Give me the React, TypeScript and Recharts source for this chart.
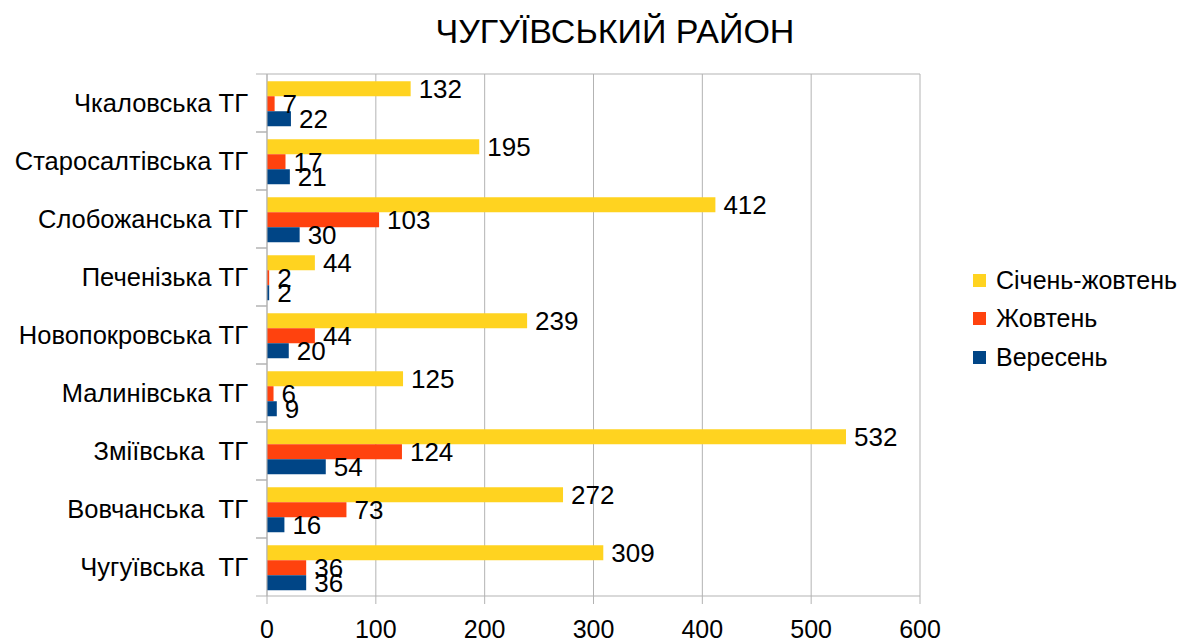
import React from "react";
import {
  Bar,
  BarChart,
  CartesianGrid,
  LabelList,
  Legend,
  XAxis,
  YAxis,
} from "recharts";

const communities = [
  "Чкаловська ТГ",
  "Старосалтівська ТГ",
  "Слобожанська ТГ",
  "Печенізька ТГ",
  "Новопокровська ТГ",
  "Малинівська ТГ",
  "Зміївська  ТГ",
  "Вовчанська  ТГ",
  "Чугуївська  ТГ",
];
const janToOct = [132, 195, 412, 44, 239, 125, 532, 272, 309];
const october = [7, 17, 103, 2, 44, 6, 124, 73, 36];
const september = [22, 21, 30, 2, 20, 9, 54, 16, 36];
const xTicks = [0, 100, 200, 300, 400, 500, 600];

const series = [
  { key: "janOct", name: "Січень-жовтень", color: "#ffd320" },
  { key: "oct", name: "Жовтень", color: "#ff420e" },
  { key: "sep", name: "Вересень", color: "#004586" },
];

const data = communities.map((name, i) => ({
  name,
  janOct: janToOct[i],
  oct: october[i],
  sep: september[i],
}));

const FONT = '"Liberation Sans", Arial, sans-serif';
const GRID = "#b3b3b3";
const BAND = 58;

function CategoryTick(props: any) {
  const { x, y, payload } = props;
  return (
    <g>
      <line x1={x + 8} x2={x + 19} y1={y - BAND / 2} y2={y - BAND / 2} stroke={GRID} />
      <line x1={x + 8} x2={x + 19} y1={y + BAND / 2} y2={y + BAND / 2} stroke={GRID} />
      <text
        x={x}
        y={y}
        dy="0.355em"
        textAnchor="end"
        fontSize={25.5}
        fill="#000"
        style={{ whiteSpace: "pre" }}
      >
        {payload.value}
      </text>
    </g>
  );
}

function LegendContent() {
  return (
    <div style={{ fontFamily: FONT, fontSize: 25, color: "#000" }}>
      {series.map((s) => (
        <div
          key={s.key}
          style={{ display: "flex", alignItems: "center", height: 38.5 }}
        >
          <span
            style={{
              width: 13,
              height: 13,
              background: s.color,
              display: "inline-block",
              marginRight: 10,
            }}
          />
          {s.name}
        </div>
      ))}
    </div>
  );
}

export default function App() {
  return (
    <div
      style={{
        position: "absolute",
        left: 0,
        top: 0,
        width: 1187,
        height: 641,
        background: "#fff",
        fontFamily: FONT,
      }}
    >
      <div
        style={{
          position: "absolute",
          left: 0,
          width: 1230,
          top: 11,
          textAlign: "center",
          fontSize: 34,
          lineHeight: "40px",
          color: "#000",
        }}
      >
        ЧУГУЇВСЬКИЙ РАЙОН
      </div>
      <BarChart
        width={1187}
        height={641}
        data={data}
        layout="vertical"
        margin={{ top: 74, right: 267, bottom: 0, left: 0 }}
        barCategoryGap="12.5%"
        barGap={0}
        style={{ fontFamily: FONT }}
      >
        <CartesianGrid stroke={GRID} horizontalPoints={[74]} />
        <XAxis
          type="number"
          domain={[0, 600]}
          ticks={xTicks}
          interval={0}
          height={45}
          axisLine={{ stroke: GRID }}
          tickLine={{ stroke: GRID }}
          tickSize={8}
          tickMargin={16}
          tick={{ fill: "#000", fontSize: 25 }}
        />
        <YAxis
          type="category"
          dataKey="name"
          width={267}
          interval={0}
          axisLine={{ stroke: GRID }}
          tickLine={false}
          tickSize={11}
          tickMargin={8}
          tick={<CategoryTick />}
        />
        <Legend
          layout="vertical"
          align="center"
          verticalAlign="middle"
          content={<LegendContent />}
          wrapperStyle={{ left: 973, top: 261, width: 214 }}
        />
        {series.map((s) => (
          <Bar
            key={s.key}
            dataKey={s.key}
            name={s.name}
            fill={s.color}
            isAnimationActive={false}
          >
            <LabelList
              dataKey={s.key}
              position="right"
              offset={8}
              fill="#000"
              fontSize={26}
            />
          </Bar>
        ))}
      </BarChart>
    </div>
  );
}
